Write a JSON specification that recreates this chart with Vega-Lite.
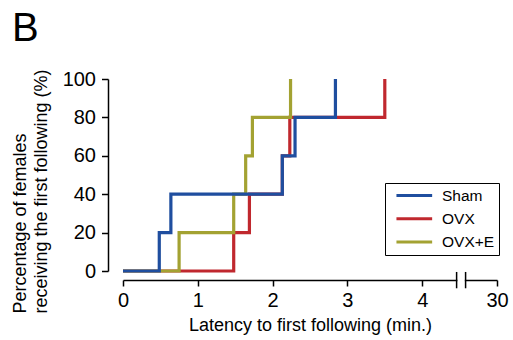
{
  "$schema": "https://vega.github.io/schema/vega-lite/v6.json",
  "autosize": "none",
  "width": 374,
  "height": 192,
  "padding": {"left": 123, "top": 79, "right": 16, "bottom": 69},
  "background": "white",
  "config": {
    "font": "Liberation Sans",
    "view": {"stroke": null},
    "axis": {"grid": false, "domainColor": "black", "tickColor": "black", "labelColor": "black", "titleColor": "black", "domainWidth": 1.5, "tickWidth": 1.5, "labelFontSize": 20, "titleFontSize": 18, "titleFontWeight": "normal", "labelOverlap": false, "labelFlush": false}
  },
  "title": {"text": "B", "anchor": "start", "frame": "group", "fontSize": 40, "fontWeight": "normal", "dx": -111, "offset": 20, "color": "black"},
  "datasets": {
    "steps": [
      {"group": "OVX", "latency": 0, "pct": 0},
      {"group": "OVX", "latency": 1.48, "pct": 20},
      {"group": "OVX", "latency": 1.69, "pct": 40},
      {"group": "OVX", "latency": 2.13, "pct": 60},
      {"group": "OVX", "latency": 2.23, "pct": 80},
      {"group": "OVX", "latency": 3.5, "pct": 100},
      {"group": "OVX+E", "latency": 0, "pct": 0},
      {"group": "OVX+E", "latency": 0.75, "pct": 20},
      {"group": "OVX+E", "latency": 1.48, "pct": 40},
      {"group": "OVX+E", "latency": 1.64, "pct": 60},
      {"group": "OVX+E", "latency": 1.73, "pct": 80},
      {"group": "OVX+E", "latency": 2.24, "pct": 100},
      {"group": "Sham", "latency": 0, "pct": 0},
      {"group": "Sham", "latency": 0.485, "pct": 20},
      {"group": "Sham", "latency": 0.64, "pct": 40},
      {"group": "Sham", "latency": 2.13, "pct": 60},
      {"group": "Sham", "latency": 2.3, "pct": 80},
      {"group": "Sham", "latency": 2.84, "pct": 100}
    ]
  },
  "encoding": {
    "x": {"field": "latency", "type": "quantitative", "scale": {"domain": [0, 5], "nice": false},
          "axis": {"values": [0, 1, 2, 3, 4, 5], "labelExpr": "datum.value == 5 ? '30' : datum.value", "offset": 9, "tickSize": 6, "labelPadding": 4, "labelOverlap": false, "title": "Latency to first following (min.)", "titlePadding": 6}},
    "y": {"field": "pct", "type": "quantitative", "scale": {"domain": [0, 100], "nice": false},
          "axis": {"values": [0, 20, 40, 60, 80, 100], "tickCount": 6, "offset": 15, "tickSize": 6.5, "labelPadding": 6, "labelOverlap": false, "labelBound": false, "title": ["Percentage of females", "receiving the first following (%)"], "titleAlign": "left", "titleY": 234, "titlePadding": 12, "titleLineHeight": 21}}
  },
  "layer": [
    {
      "data": {"name": "steps"},
      "transform": [{"filter": "datum.group === 'OVX'"}],
      "mark": {"type": "line", "interpolate": "step-after", "strokeWidth": 3.2},
      "encoding": {
        "color": {"field": "group", "type": "nominal",
                  "scale": {"domain": ["Sham", "OVX", "OVX+E"], "range": ["#1f4e9f", "#c0282e", "#a3a232"]},
                  "legend": {"title": null, "orient": "none", "legendX": 262, "legendY": 104, "strokeColor": "black", "padding": 4, "symbolType": "M-0.15,0H4.95", "symbolSize": 196, "symbolStrokeWidth": 3, "labelFontSize": 15.5, "labelColor": "black", "rowPadding": 6.2, "labelOffset": 36}}
      }
    },
    {
      "data": {"name": "steps"},
      "transform": [{"filter": "datum.group === 'OVX+E'"}],
      "mark": {"type": "line", "interpolate": "step-after", "strokeWidth": 3.2},
      "encoding": {
        "color": {"field": "group", "type": "nominal"}
      }
    },
    {
      "data": {"name": "steps"},
      "transform": [{"filter": "datum.group === 'Sham'"}],
      "mark": {"type": "line", "interpolate": "step-after", "strokeWidth": 3.2},
      "encoding": {
        "color": {"field": "group", "type": "nominal"}
      }
    },
    {
      "data": {"values": [{"lo": 4.47, "hi": 4.57, "top": -3, "bot": -6.5}]},
      "mark": {"type": "rect", "color": "white", "clip": false},
      "encoding": {"x": {"field": "lo", "type": "quantitative"}, "x2": {"field": "hi"}, "y": {"field": "top", "type": "quantitative"}, "y2": {"field": "bot"}}
    },
    {
      "data": {"values": [{"brk": 4.46, "top": -0.5, "bot": -9}, {"brk": 4.58, "top": -0.5, "bot": -9}]},
      "mark": {"type": "rule", "color": "black", "strokeWidth": 1.5, "clip": false},
      "encoding": {"x": {"field": "brk", "type": "quantitative"}, "y": {"field": "top", "type": "quantitative"}, "y2": {"field": "bot"}}
    }
  ]
}
